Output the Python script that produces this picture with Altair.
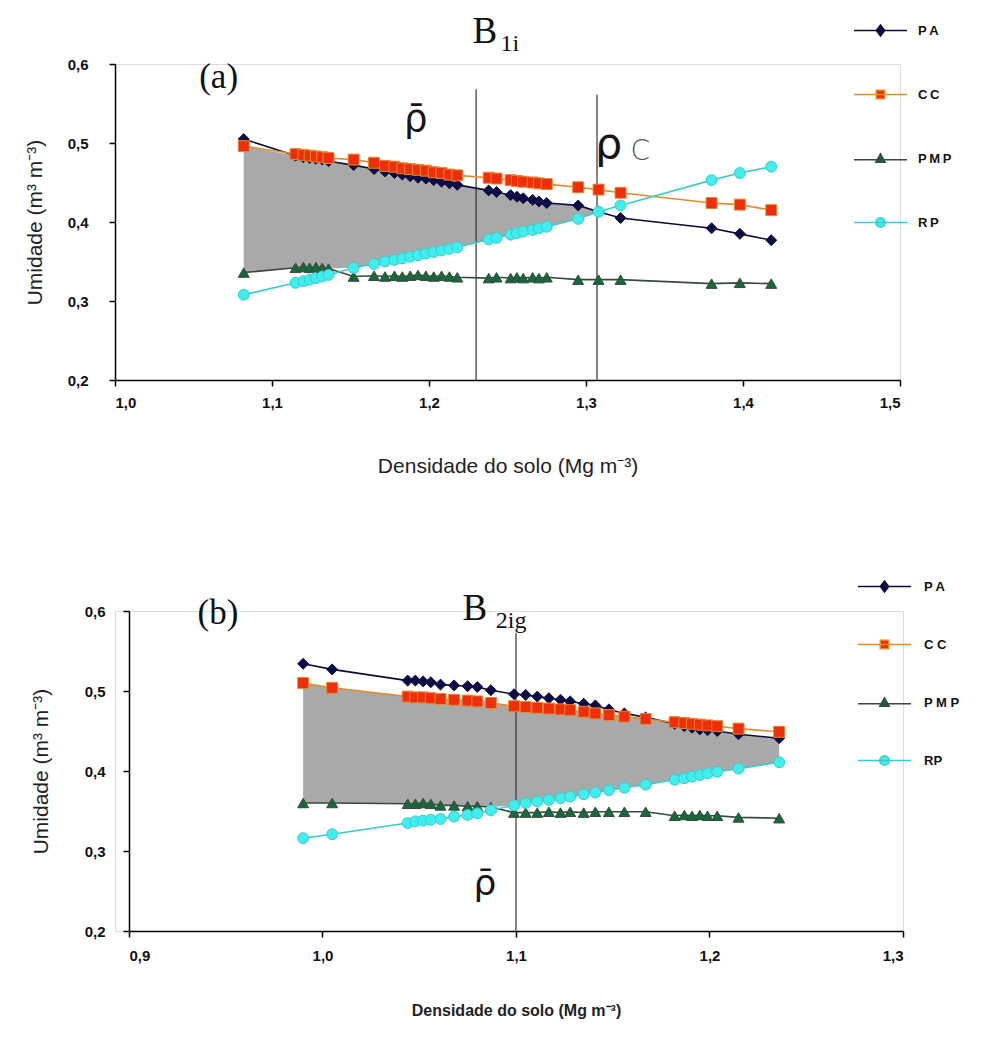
import json
import altair as alt
import pandas as pd

# ---------------- data ----------------
SERIES = ["PA", "CC", "PMP", "RP"]

# panel (a)  B1i
dens_a = [1.082, 1.115, 1.120, 1.124, 1.128, 1.132, 1.136, 1.152, 1.165, 1.172, 1.178,
          1.183, 1.188, 1.193, 1.198, 1.203, 1.208, 1.213, 1.218, 1.238, 1.243, 1.252,
          1.256, 1.260, 1.266, 1.270, 1.275, 1.295, 1.308, 1.322, 1.380, 1.398, 1.418]
pa_a = [0.505, 0.484, 0.482, 0.481, 0.480, 0.479, 0.477, 0.472, 0.467, 0.464, 0.462,
        0.460, 0.458, 0.456, 0.455, 0.453, 0.451, 0.449, 0.447, 0.440, 0.438, 0.434,
        0.432, 0.430, 0.428, 0.426, 0.424, 0.421, 0.413, 0.405, 0.392, 0.385, 0.377]
cc_a = [0.496, 0.486, 0.485, 0.484, 0.483, 0.482, 0.481, 0.479, 0.475, 0.471, 0.470,
        0.468, 0.467, 0.466, 0.465, 0.463, 0.462, 0.460, 0.459, 0.456, 0.455, 0.453,
        0.452, 0.451, 0.450, 0.449, 0.448, 0.444, 0.441, 0.437, 0.424, 0.422, 0.415]
pmp_a = [0.336, 0.342, 0.343, 0.342, 0.343, 0.342, 0.341, 0.331, 0.332, 0.331, 0.332,
         0.331, 0.332, 0.333, 0.332, 0.331, 0.332, 0.331, 0.330, 0.329, 0.330, 0.329,
         0.330, 0.329, 0.330, 0.329, 0.330, 0.327, 0.327, 0.327, 0.322, 0.323, 0.322]
rp_a = [0.308, 0.323, 0.325, 0.327, 0.329, 0.331, 0.333, 0.342, 0.347, 0.350, 0.352,
        0.354, 0.356, 0.358, 0.360, 0.362, 0.364, 0.366, 0.368, 0.378, 0.380, 0.384,
        0.386, 0.388, 0.390, 0.392, 0.394, 0.404, 0.413, 0.421, 0.453, 0.462, 0.470]

# panel (b)  B2ig
dens_b = [0.990, 1.005, 1.044, 1.048, 1.052, 1.056, 1.061, 1.068, 1.075, 1.080, 1.087,
          1.099, 1.105, 1.111, 1.117, 1.123, 1.128, 1.135, 1.141, 1.148, 1.156, 1.167,
          1.182, 1.187, 1.191, 1.195, 1.199, 1.204, 1.215, 1.236]
pa_b = [0.534, 0.527, 0.513, 0.513, 0.512, 0.511, 0.508, 0.507, 0.506, 0.505, 0.501,
        0.496, 0.495, 0.493, 0.491, 0.489, 0.487, 0.484, 0.482, 0.477, 0.472, 0.467,
        0.459, 0.456, 0.454, 0.452, 0.451, 0.450, 0.446, 0.441]
cc_b = [0.510, 0.504, 0.493, 0.492, 0.492, 0.491, 0.490, 0.489, 0.488, 0.487, 0.485,
        0.481, 0.480, 0.479, 0.478, 0.477, 0.476, 0.474, 0.472, 0.470, 0.468, 0.465,
        0.461, 0.460, 0.459, 0.458, 0.457, 0.456, 0.453, 0.449]
pmp_b = [0.360, 0.360, 0.359, 0.359, 0.360, 0.359, 0.357, 0.357, 0.356, 0.356, 0.355,
         0.348, 0.348, 0.348, 0.349, 0.348, 0.349, 0.348, 0.349, 0.349, 0.349, 0.349,
         0.344, 0.345, 0.344, 0.345, 0.344, 0.344, 0.342, 0.341]
rp_b = [0.316, 0.321, 0.335, 0.337, 0.338, 0.339, 0.340, 0.343, 0.345, 0.347, 0.351,
        0.357, 0.360, 0.362, 0.364, 0.366, 0.368, 0.371, 0.373, 0.376, 0.379, 0.383,
        0.389, 0.391, 0.393, 0.395, 0.397, 0.399, 0.403, 0.411]

# axes
x_ticks_a = [1.0, 1.1, 1.2, 1.3, 1.4, 1.5]
x_ticks_b = [0.9, 1.0, 1.1, 1.2, 1.3]
y_ticks = [0.2, 0.3, 0.4, 0.5, 0.6]

# reference lines (density, top of line)
vline_x_a = [1.230, 1.307]
vline_top_a = [0.568, 0.561]
vline_x_b = [1.100]
vline_top_b = [0.5725]

# annotation texts
serif_txt_a = ["(a)", "B", "1i"]
serif_x_a = [1.066, 1.2355, 1.2515]
serif_y_a = [0.5835, 0.6405, 0.6253]
serif_size_a = [35, 37, 24]
sans_txt_a = ["ρ̄", "ρ"]
sans_x_a = [1.1915, 1.3145]
sans_y_a = [0.529, 0.498]
sans_size_a = [37, 43]
light_txt_a = ["C"]
light_x_a = [1.3345]
light_y_a = [0.4886]
light_size_a = [28]

serif_txt_b = ["(b)", "B", "2ig"]
serif_x_b = [0.946, 1.0787, 1.0975]
serif_y_b = [0.5975, 0.6025, 0.5875]
serif_size_b = [35, 37, 24]
sans_txt_b = ["ρ̄"]
sans_x_b = [1.084]
sans_y_b = [0.259]
sans_size_b = [36]

legend_labels_a = ["P\u2009A", "C\u2009C", "P\u2009M\u2009P", "R\u2009P"]
legend_labels_b = ["P A", "C C", "P  M  P", "RP"]

# ---------------- styling ----------------
FILL_COLORS = ["#0c0c46", "#ee2e0c", "#16693a", "#40eeee"]
LINE_COLORS = ["#0c0c3c", "#e58a2e", "#36493c", "#3ccaca"]
MARKERS = ["diamond", "square", "triangle-up", "circle"]
LEGEND_SYMBOLS = [
    "M-5.3,0H5.3M0,-1.1L0.85,0L0,1.1L-0.85,0Z",
    "M-5.3,0H5.3M-0.85,-0.85H0.85V0.85H-0.85Z",
    "M-5.3,0.25H5.3M0,-0.95L0.95,0.75H-0.95Z",
    "M-5.3,0H5.3M0.95,0A0.95,0.95,0,1,1,-0.95,0A0.95,0.95,0,1,1,0.95,0Z",
]
SANS = "Liberation Sans"
SERIF = "Liberation Serif"
RHO_FONT = "DejaVu Sans"
COMMA = "replace(format(datum.value, '.1f'), '.', ',')"


def text_layer(X, Y, txt, xs, ys, sizes, font, color, weight="normal"):
    tdf = pd.DataFrame({"x": xs, "y": ys, "t": txt, "s": sizes})
    return alt.Chart(tdf).mark_text(font=font, color=color, align="center",
                                    baseline="middle", fontWeight=weight).encode(
        x=X("x:Q"), y=Y("y:Q"), text="t:N", size=alt.Size("s:Q", scale=None))


def panel(dens, pa, cc, pmp, rp, xdom, xticks, width, height, x_inset, xtitle,
          xtitle_bold, xtitle_size, x_lpad, x_tpad, y_lpad, y_tpad, vx, vtop,
          texts, labels, lx, ly, rowpad, loff):
    df = pd.DataFrame({"dens": dens, "PA": pa, "CC": cc, "PMP": pmp, "RP": rp})
    xscale = alt.Scale(domain=xdom, range=[x_inset, width], nice=False, zero=False)
    yscale = alt.Scale(domain=[0.2, 0.6], nice=False, zero=False)
    xaxis = alt.Axis(values=xticks, labelExpr=COMMA, grid=False, domainColor="#000",
                     domainWidth=1.5, tickColor="#000", tickWidth=1.5, tickSize=6,
                     labelFont=SANS, labelFontSize=15, labelFontWeight="bold",
                     labelColor="#111", labelPadding=x_lpad, titleFont=SANS,
                     titleFontSize=xtitle_size,
                     titleFontWeight="bold" if xtitle_bold else "normal",
                     titleColor="#222", titlePadding=x_tpad)
    yaxis = alt.Axis(values=y_ticks, labelExpr=COMMA, grid=False, domainColor="#000",
                     domainWidth=1.5, tickColor="#000", tickWidth=1.5, tickSize=6,
                     labelFont=SANS, labelFontSize=15, labelFontWeight="bold",
                     labelColor="#111", labelPadding=y_lpad, titleFont=SANS,
                     titleFontSize=21, titleFontWeight="normal", titleColor="#222",
                     titlePadding=y_tpad, offset=-x_inset)
    ytitle = "Umidade (m³ m⁻³)"

    def X(f):
        return alt.X(f, scale=xscale, axis=xaxis, title=xtitle)

    def Y(f):
        return alt.Y(f, scale=yscale, axis=yaxis, title=ytitle)

    base = alt.Chart(df)
    area = base.transform_calculate(
        upper="min(datum.PA, datum.CC)", lower="max(datum.PMP, datum.RP)"
    ).transform_filter("datum.upper >= datum.lower").mark_area(
        color="#a9a9a9", opacity=1
    ).encode(x=X("dens:Q"), y=Y("lower:Q"), y2="upper:Q")

    folded = base.transform_fold(SERIES, as_=["series", "value"])
    lines = folded.mark_line(strokeWidth=1.6).encode(
        x=X("dens:Q"), y=Y("value:Q"),
        stroke=alt.Stroke("series:N", scale=alt.Scale(domain=SERIES, range=LINE_COLORS),
                          legend=None),
    )
    points = folded.mark_point(filled=True, size=120, opacity=1, strokeWidth=1).encode(
        x=X("dens:Q"), y=Y("value:Q"),
        fill=alt.Fill("series:N", scale=alt.Scale(domain=SERIES, range=FILL_COLORS),
                      legend=None),
        stroke=alt.Stroke("series:N", scale=alt.Scale(domain=SERIES, range=LINE_COLORS),
                          legend=None),
        shape=alt.Shape("series:N", scale=alt.Scale(domain=SERIES, range=MARKERS),
                        legend=None),
    )

    vdf = pd.DataFrame({"x": vx, "top": vtop, "bottom": [0.2] * len(vx)})
    rules = alt.Chart(vdf).mark_rule(color="#333", strokeWidth=1.2).encode(
        x=X("x:Q"), y=Y("top:Q"), y2="bottom:Q")

    tlayers = [text_layer(X, Y, *t) for t in texts]

    lab_map = json.dumps(dict(zip(SERIES, labels)), ensure_ascii=False)
    leg = alt.Legend(title=None, orient="none", legendX=lx, legendY=ly,
                     direction="vertical", symbolSize=100, symbolStrokeWidth=1.4,
                     rowPadding=rowpad, labelOffset=loff, labelFont=SANS,
                     labelFontSize=13, labelFontWeight="bold", labelColor="#111",
                     labelExpr=lab_map + "[datum.label]", padding=0)
    legend_layer = folded.transform_filter("false").mark_point(
        filled=True, size=100, opacity=1).encode(
        fill=alt.Fill("series:N", scale=alt.Scale(domain=SERIES, range=FILL_COLORS),
                      legend=leg),
        stroke=alt.Stroke("series:N", scale=alt.Scale(domain=SERIES, range=LINE_COLORS),
                          legend=leg),
        shape=alt.Shape("series:N", scale=alt.Scale(domain=SERIES, range=LEGEND_SYMBOLS),
                        legend=leg),
    )

    return alt.layer(area, rules, lines, points, *tlayers, legend_layer).resolve_scale(
        fill="independent", stroke="independent", shape="independent"
    ).properties(width=width, height=height)


texts_a = [
    (serif_txt_a, serif_x_a, serif_y_a, serif_size_a, SERIF, "#111"),
    (sans_txt_a, sans_x_a, sans_y_a, sans_size_a, RHO_FONT, "#151515"),
    (light_txt_a, light_x_a, light_y_a, light_size_a, RHO_FONT, "#555", "lighter"),
]
texts_b = [
    (serif_txt_b, serif_x_b, serif_y_b, serif_size_b, SERIF, "#111"),
    (sans_txt_b, sans_x_b, sans_y_b, sans_size_b, RHO_FONT, "#151515"),
]

top = panel(dens_a, pa_a, cc_a, pmp_a, rp_a, [1.0, 1.5], x_ticks_a, 785, 316, 0,
            "Densidade do solo (Mg m⁻³)", False, 21, 9, 45, 21, 22,
            vline_x_a, vline_top_a, texts_a,
            legend_labels_a, 759, -40, 48, 31)
bottom = panel(dens_b, pa_b, cc_b, pmp_b, rp_b, [0.9, 1.3], x_ticks_b, 788, 320, 14,
               "Densidade do solo (Mg m⁻³)", True, 16, 11, 39, 18, 33,
               vline_x_b, vline_top_b, texts_b,
               legend_labels_b, 763, -31, 42, 33)

chart = alt.vconcat(top, bottom, spacing=102).resolve_scale(
    x="independent", y="independent", fill="independent", stroke="independent",
    shape="independent"
).properties(
    padding={"left": 15, "top": 4, "right": 5, "bottom": 5}
).configure_view(stroke=None).configure(background="white")

chart.save("out.html", embed_options={"renderer": "svg", "actions": False})
